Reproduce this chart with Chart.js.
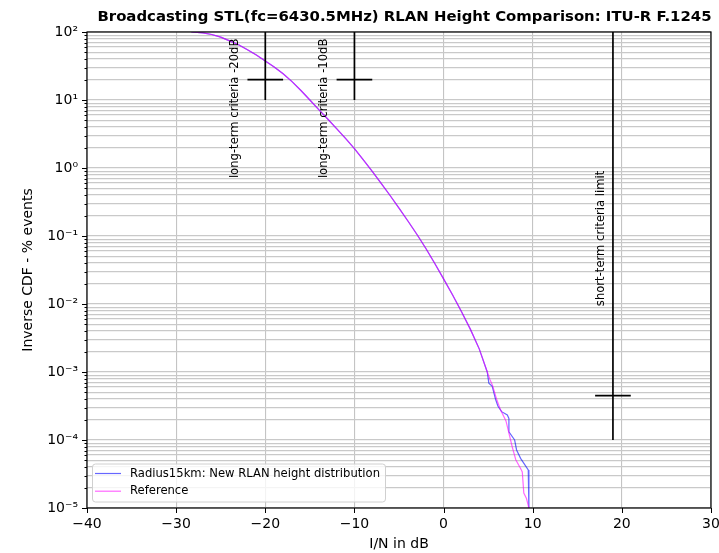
<!DOCTYPE html>
<html>
<head>
<meta charset="utf-8">
<script src="https://cdn.jsdelivr.net/npm/chart.js@4.4.1/dist/chart.umd.min.js"></script>
<style>
  html, body { margin: 0; padding: 0; background: #fff; }
  canvas { display: block; }
</style>
</head>
<body>
<canvas id="cdf" width="719" height="553" style="width:719px;height:553px"></canvas>
<script>
// Inverse CDF of I/N (dB) versus percentage of events.
// Shared body of both distributions.
const bodyDb  = [-28.3, -27, -26, -25, -24, -23, -22, -21, -20, -19, -18, -17, -16, -15, -14, -13,
                 -12, -11, -10, -9, -8, -7, -6, -5, -4, -3, -2, -1, 0, 1, 2, 3, 4, 4.9];
const bodyPct = [100, 97, 92, 84, 74, 65, 55, 46, 37.6, 30.5, 24.3, 18.6, 13.8, 10.0, 7.24, 5.25,
                 3.80, 2.72, 1.93, 1.32, 0.891, 0.596, 0.394, 0.257, 0.166, 0.106, 0.0661, 0.0398,
                 0.0234, 0.01365, 0.00776, 0.00427, 0.00219, 0.00100];

// Tail of the new RLAN height distribution (15 km radius)
const radiusTailDb  = [5.08, 5.46, 5.83, 6.09, 6.51, 7.15, 7.33, 7.33, 7.97, 8.19, 8.64, 9.50, 9.57, 9.57];
const radiusTailPct = [6.82e-4, 6.17e-4, 3.98e-4, 3.16e-4, 2.61e-4, 2.33e-4, 2.08e-4, 1.32e-4,
                       1.0e-4, 7.13e-5, 5.37e-5, 3.63e-5, 3.31e-5, 1.0e-5];

// Tail of the reference distribution
const refTailDb  = [5.2, 5.5, 6.0, 6.4, 7.0, 7.33, 7.7, 8.1, 8.64, 8.83, 9.0, 9.3, 9.57];
const refTailPct = [7.76e-4, 6.31e-4, 3.80e-4, 2.75e-4, 1.91e-4, 1.26e-4, 7.94e-5, 5.13e-5,
                    3.80e-5, 3.39e-5, 1.66e-5, 1.38e-5, 1.0e-5];

const seriesNames = ['Radius15km: New RLAN height distribution', 'Reference'];

// Protection criteria markers: vertical extent and crosshair level
const criteriaDb     = [-20, -10, 19];
const criteriaTop    = [100, 100, 100];
const criteriaBottom = [10, 10, 1e-4];
const criteriaCross  = [20, 20, 4.5e-4];
const criteriaArm    = 2;   // half width of the crosshair, dB
const criteriaText   = ['long-term criteria -20dB', 'long-term criteria -10dB', 'short-term criteria limit'];
const criteriaTextDb  = [-23.4, -13.4, 17.7];
const criteriaTextPct = [0.71, 0.71, 0.0093];

const xTicks = [-40, -30, -20, -10, 0, 10, 20, 30];

const toPts = (xs, ys) => xs.map((x, i) => ({ x, y: ys[i] }));
const radiusPts = toPts(bodyDb.concat(radiusTailDb), bodyPct.concat(radiusTailPct));
const refPts    = toPts(bodyDb.concat(refTailDb), bodyPct.concat(refTailPct));

const SUP = { '-': '\u207B', '0': '\u2070', '1': '\u00B9', '2': '\u00B2', '3': '\u00B3',
              '4': '\u2074', '5': '\u2075', '6': '\u2076', '7': '\u2077', '8': '\u2078', '9': '\u2079' };
const pow10Label = e => '10' + String(e).split('').map(c => SUP[c]).join('');
const minus = v => (v < 0 ? '\u2212' + Math.abs(v) : String(v));

Chart.defaults.font.family = "'DejaVu Sans', sans-serif";
Chart.defaults.color = '#000';

const markerSets = [];
criteriaDb.forEach((d, i) => {
  markerSets.push({
    data: [{ x: d, y: criteriaBottom[i] }, { x: d, y: criteriaTop[i] }],
    borderColor: '#000', borderWidth: 1.7, pointRadius: 0, order: 0, isMarker: true
  });
  markerSets.push({
    data: [{ x: d - criteriaArm, y: criteriaCross[i] }, { x: d + criteriaArm, y: criteriaCross[i] }],
    borderColor: '#000', borderWidth: 1.7, pointRadius: 0, order: 0, isMarker: true
  });
});

const FONT = "'DejaVu Sans', sans-serif";

const decorations = {
  id: 'decorations',
  beforeDraw(chart) {
    const c = chart.ctx;
    c.save();
    c.fillStyle = '#fff';
    c.fillRect(0, 0, chart.width, chart.height);
    c.restore();
  },
  afterDraw(chart) {
    const c = chart.ctx;
    const a = chart.chartArea;
    const xs = chart.scales.x, ys = chart.scales.y;
    c.save();

    // axes frame
    c.strokeStyle = '#000';
    c.lineWidth = 1.2;
    c.strokeRect(a.left, a.top, a.right - a.left, a.bottom - a.top);

    // tick marks (outside)
    c.lineWidth = 1;
    c.beginPath();
    xs.ticks.forEach(t => {
      const px = Math.round(xs.getPixelForValue(t.value)) + 0.5;
      c.moveTo(px, a.bottom); c.lineTo(px, a.bottom + 5);
    });
    ys.ticks.forEach(t => {
      const py = Math.round(ys.getPixelForValue(t.value)) + 0.5;
      const len = t.major ? 5 : 2.5;
      c.moveTo(a.left - len, py); c.lineTo(a.left, py);
    });
    c.stroke();

    // criteria labels, rotated
    c.fillStyle = '#000';
    c.font = '11.6px ' + FONT;
    c.textAlign = 'left';
    c.textBaseline = 'middle';
    criteriaText.forEach((txt, i) => {
      c.save();
      c.translate(xs.getPixelForValue(criteriaTextDb[i]), ys.getPixelForValue(criteriaTextPct[i]));
      c.rotate(-Math.PI / 2);
      c.fillText(txt, 0, 0);
      c.restore();
    });

    // legend
    const lx = 92.5, ly = 464, lw = 293, lh = 38, r = 3;
    c.beginPath();
    c.moveTo(lx + r, ly);
    c.arcTo(lx + lw, ly, lx + lw, ly + lh, r);
    c.arcTo(lx + lw, ly + lh, lx, ly + lh, r);
    c.arcTo(lx, ly + lh, lx, ly, r);
    c.arcTo(lx, ly, lx + lw, ly, r);
    c.closePath();
    c.fillStyle = 'rgba(255,255,255,0.8)';
    c.fill();
    c.strokeStyle = '#d0d0d0';
    c.lineWidth = 1;
    c.stroke();
    const lineSets = chart.data.datasets.filter(d => !d.isMarker);
    lineSets.forEach((d, i) => {
      const yy = ly + 9.5 + i * 17.7;
      c.strokeStyle = d.borderColor;
      c.lineWidth = d.borderWidth;
      c.beginPath();
      c.moveTo(95, yy); c.lineTo(121, yy);
      c.stroke();
      c.fillStyle = '#000';
      c.font = '11.6px ' + FONT;
      c.textAlign = 'left';
      c.textBaseline = 'middle';
      c.fillText(d.label, 130, yy);
    });

    // title
    c.fillStyle = '#000';
    c.font = 'bold 14.9px ' + FONT;
    c.textAlign = 'center';
    c.textBaseline = 'middle';
    c.fillText('Broadcasting STL(fc=6430.5MHz) RLAN Height Comparison: ITU-R F.1245', 404.5, 17);

    c.restore();
  }
};

new Chart(document.getElementById('cdf'), {
  type: 'line',
  data: {
    datasets: [
      { label: seriesNames[0], data: radiusPts, borderColor: 'rgba(0,0,255,0.6)',
        borderWidth: 1.2, pointRadius: 0, tension: 0, order: 2 },
      { label: seriesNames[1], data: refPts, borderColor: 'rgba(255,0,255,0.6)',
        borderWidth: 1.2, pointRadius: 0, tension: 0, order: 1 }
    ].concat(markerSets)
  },
  options: {
    responsive: false,
    animation: false,
    events: [],
    layout: { padding: { top: 32, right: 8, left: 0, bottom: 0 } },
    plugins: { legend: { display: false }, title: { display: false }, tooltip: { enabled: false } },
    scales: {
      x: {
        type: 'linear', min: -40, max: 30,
        afterBuildTicks: s => { s.ticks = xTicks.map(v => ({ value: v })); },
        ticks: { callback: v => minus(v), font: { size: 14 }, padding: 8, maxRotation: 0, autoSkip: false },
        grid: { color: '#c4c4c4', lineWidth: 1.1, drawTicks: false },
        border: { display: false },
        title: { display: true, text: 'I/N in dB', font: { size: 14 }, padding: { top: 0, bottom: 0 } },
        afterFit: s => { s.height = 45; s.paddingLeft = 0; s.paddingRight = 0; }
      },
      y: {
        type: 'logarithmic', min: 1e-5, max: 100,
        afterBuildTicks: s => {
          const t = [];
          for (let e = -5; e <= 2; e++) {
            for (let m = 1; m <= 9; m++) {
              if (e === 2 && m > 1) break;
              t.push({ value: Number((m * Math.pow(10, e)).toPrecision(3)), major: m === 1, exp: e });
            }
          }
          s.ticks = t;
        },
        ticks: {
          autoSkip: false, padding: 9, font: { size: 14 },
          callback: (v, i, t) => (t[i].major ? pow10Label(t[i].exp) : '')
        },
        grid: { color: '#c9c9c9', lineWidth: 1.2, drawTicks: false },
        border: { display: false },
        title: { display: true, text: 'Inverse CDF - % events', font: { size: 14 }, padding: { top: 20, bottom: 0 } },
        afterFit: s => { s.width = 87; s.paddingTop = 0; s.paddingBottom = 0; }
      }
    }
  },
  plugins: [decorations]
});
</script>
</body>
</html>
